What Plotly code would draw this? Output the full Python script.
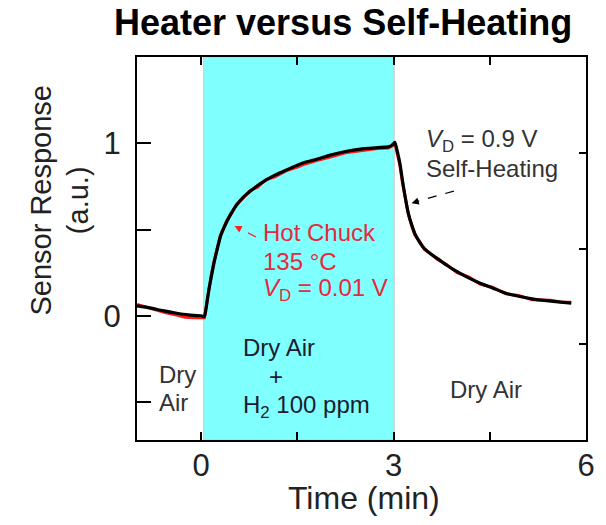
import plotly.graph_objects as go

# ---- data ----
t_black = [-1.0, -0.8, -0.6, -0.4, -0.2, 0.0, 0.05, 0.08, 0.12, 0.16, 0.2, 0.25, 0.3, 0.35, 0.4,
           0.47, 0.55, 0.65, 0.76, 0.88, 1.01, 1.15, 1.32, 1.5, 1.62, 1.8, 2.0, 2.25, 2.51, 2.75,
           2.92, 2.98, 3.02, 3.06, 3.10, 3.14, 3.18, 3.23, 3.28, 3.33, 3.4, 3.48, 3.58, 3.68,
           3.83, 3.99, 4.17, 4.35, 4.55, 4.75, 4.95, 5.16, 5.45, 5.77]
r_black = [0.058, 0.046, 0.03, 0.016, 0.005, 0.0, -0.005, 0.05, 0.15, 0.23, 0.305, 0.385, 0.458, 0.505, 0.545,
           0.595, 0.64, 0.685, 0.72, 0.755, 0.786, 0.815, 0.844, 0.873, 0.89, 0.907, 0.93, 0.952, 0.967, 0.975,
           0.979, 0.99, 1.005, 0.95, 0.88, 0.78, 0.69, 0.594, 0.53, 0.478, 0.43, 0.39, 0.358, 0.333,
           0.293, 0.256, 0.22, 0.189, 0.16, 0.131, 0.113, 0.098, 0.085, 0.073]

t_red = [-1.0, -0.85, -0.7, -0.55, -0.4, -0.25, -0.1, 0.0, 0.05, 0.08, 0.12, 0.16, 0.2, 0.25, 0.3, 0.35, 0.4,
         0.47, 0.55, 0.65, 0.76, 0.88, 1.01, 1.15, 1.32, 1.5, 1.62, 1.8, 2.0, 2.25, 2.51, 2.75,
         2.92, 2.98, 3.02, 3.06, 3.10, 3.14, 3.18, 3.23, 3.28, 3.33, 3.4, 3.48, 3.58, 3.68,
         3.83, 3.99, 4.17, 4.35, 4.55, 4.75, 4.95, 5.16, 5.45, 5.6, 5.77]
r_red = [0.066, 0.05, 0.03, 0.018, 0.006, -0.008, -0.012, -0.01, -0.012, 0.055, 0.16, 0.24, 0.315, 0.39, 0.468, 0.51, 0.552,
         0.59, 0.645, 0.68, 0.725, 0.745, 0.79, 0.805, 0.84, 0.862, 0.88, 0.9, 0.918, 0.945, 0.958, 0.97,
         0.972, 0.985, 1.0, 0.94, 0.87, 0.77, 0.68, 0.59, 0.525, 0.47, 0.435, 0.385, 0.36, 0.328,
         0.296, 0.25, 0.225, 0.184, 0.165, 0.127, 0.118, 0.093, 0.09, 0.08, 0.078]

x_tickvals = [0, 1.5, 3, 4.5, 6]
x_ticktext = ["0", "", "3", "", "6"]
y_tickvals = [-0.5, 0, 0.5, 1]
y_ticktext = ["", "0", "", "1"]

FONT = "Liberation Sans, Arial, sans-serif"

fig = go.Figure()
fig.add_trace(go.Scatter(x=t_red, y=r_red, mode="lines",
                         line=dict(color="#ff1a1a", width=3), hoverinfo="skip", showlegend=False))
fig.add_trace(go.Scatter(x=t_black, y=r_black, mode="lines", line_shape="spline",
                         line=dict(color="black", width=3.2, smoothing=0.5), hoverinfo="skip", showlegend=False))
fig.add_trace(go.Scatter(x=[-1], y=[0], yaxis="y2", mode="markers", marker=dict(opacity=0),
                         hoverinfo="skip", showlegend=False))

# cyan band for H2 exposure
fig.add_shape(type="rect", xref="x", yref="paper", x0=0.04, x1=3.01, y0=0, y1=1,
              fillcolor="#80ffff", line=dict(color="#c8c8c8", width=1), layer="below")

# dashed arrows
fig.add_shape(type="line", xref="x", yref="y", x0=0.855, y0=0.457, x1=0.58, y1=0.509,
              line=dict(color="#ff2020", width=1.2, dash="dash"))
fig.add_annotation(x=0.52, y=0.52, ax=0.6, ay=0.505, xref="x", yref="y", axref="x", ayref="y",
                   text="", showarrow=True, arrowhead=2, arrowsize=1.2, arrowwidth=1.2, arrowcolor="#ff2020")
fig.add_shape(type="line", xref="x", yref="y", x0=3.94, y0=0.723, x1=3.36, y1=0.662,
              line=dict(color="black", width=1.2, dash="dash"))
fig.add_annotation(x=3.28, y=0.653, ax=3.38, ay=0.664, xref="x", yref="y", axref="x", ayref="y",
                   text="", showarrow=True, arrowhead=2, arrowsize=1.2, arrowwidth=1.2, arrowcolor="black")

def txt(x, y, s, color="#222222", anchor="left", size=24):
    fig.add_annotation(x=x, y=y, xref="x", yref="y", text=s, showarrow=False,
                       xanchor=anchor, yanchor="middle",
                       font=dict(family=FONT, size=size, color=color))

red = "#e8283c"
txt(0.93, 0.48, "Hot Chuck", red)
txt(0.93, 0.312, "135 °C", red)
txt(0.93, 0.150, "<i>V</i><sub>D</sub> = 0.01 V", red)
txt(3.48, 1.017, "<i>V</i><sub>D</sub> = 0.9 V", "#333333")
txt(3.48, 0.855, "Self-Heating", "#333333")
txt(-0.69, -0.341, "Dry", "#333333")
txt(-0.69, -0.503, "Air", "#333333")
txt(0.626, -0.185, "Dry Air", "#1c1c30")
txt(1.16, -0.353, "+", "#1c1c30", anchor="center")
txt(0.626, -0.526, "H<sub>2</sub> 100 ppm", "#1c1c30")
txt(4.44, -0.428, "Dry Air", "#333333", anchor="center")

# titles
fig.add_annotation(x=0.4585, y=1.091, xref="paper", yref="paper", text="<b>Heater versus Self-Heating</b>",
                   showarrow=False, xanchor="center", yanchor="middle",
                   font=dict(family=FONT, size=36, color="black"))
fig.add_annotation(x=0.5066, y=-0.152, xref="paper", yref="paper", text="Time (min)",
                   showarrow=False, xanchor="center", yanchor="middle",
                   font=dict(family=FONT, size=32, color="#222222"))
fig.add_annotation(x=-0.1725, y=0.6266, xref="paper", yref="paper", text="Sensor Response<br>(a.u.)",
                   showarrow=False, xanchor="center", yanchor="middle", textangle=-90,
                   font=dict(family=FONT, size=29, color="#222222"))

fig.update_layout(
    width=606, height=525,
    margin=dict(l=137, r=11, t=57, b=85),
    paper_bgcolor="white", plot_bgcolor="white",
    font=dict(family=FONT, color="#222222"),
    xaxis=dict(range=[-1, 6], tickvals=x_tickvals, ticktext=x_ticktext, ticks="inside",
               ticklen=8, tickwidth=2, tickcolor="black", showline=True, linecolor="black",
               linewidth=2, mirror="ticks", showgrid=False, zeroline=False,
               tickfont=dict(size=31, color="#222222"), ticklabelstandoff=-3),
    yaxis=dict(range=[-0.72, 1.5], tickvals=y_tickvals, ticktext=y_ticktext, ticks="inside",
               ticklen=14, tickwidth=2, tickcolor="black", showline=True, linecolor="black",
               linewidth=2, mirror=True, showgrid=False, zeroline=False,
               tickfont=dict(size=31, color="#222222"), ticklabelstandoff=8),
    yaxis2=dict(overlaying="y", side="right", range=[0, 4], tickvals=[1, 2, 3], ticks="inside",
                ticklen=7, tickwidth=2, tickcolor="black", showticklabels=False,
                showgrid=False, zeroline=False, showline=False),
)

fig.write_html("out.html")
